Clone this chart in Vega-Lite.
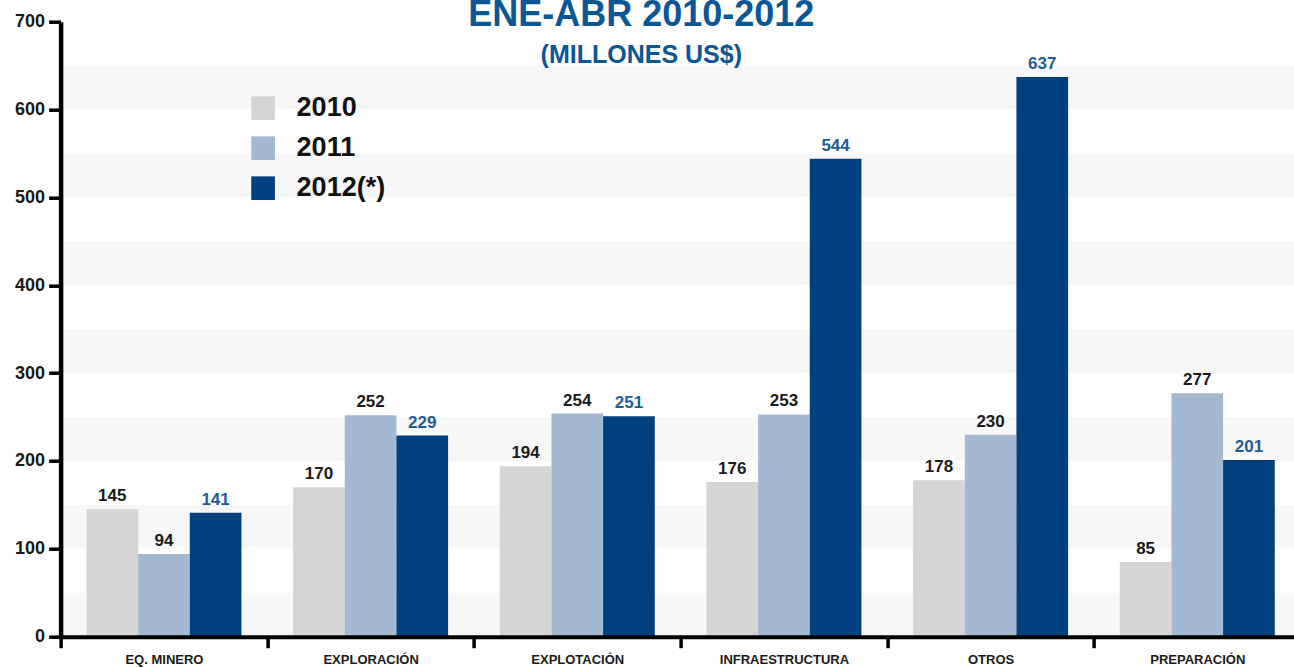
{
  "$schema": "https://vega.github.io/schema/vega-lite/v6.json",
  "width": 1233.4,
  "height": 615,
  "autosize": {"type": "none"},
  "padding": {"left": 60.6, "top": 21.7, "right": 0, "bottom": 31.3},
  "background": "white",
  "config": {
    "view": {"stroke": null},
    "font": "Liberation Sans",
    "axisX": {
      "title": null,
      "labelAngle": 0,
      "labelFontSize": 13,
      "labelFontWeight": "bold",
      "labelColor": "#1a1a1a",
      "domainColor": "#000000",
      "domainWidth": 4,
      "tickColor": "#000000",
      "tickWidth": 3.5,
      "tickSize": 11,
      "tickBand": "extent",
      "labelPadding": 6,
      "grid": false,
      "zindex": 2
    },
    "axisY": {
      "title": null,
      "labelFontSize": 18,
      "labelFontWeight": "bold",
      "labelColor": "#1a1a1a",
      "domainColor": "#000000",
      "domainWidth": 4.5,
      "tickColor": "#000000",
      "tickWidth": 3.5,
      "tickSize": 12,
      "labelPadding": 4,
      "grid": false,
      "zindex": 2
    }
  },
  "title": {
    "text": "ENE-ABR  2010-2012",
    "subtitle": "(MILLONES US$)",
    "font": "Liberation Sans",
    "subtitleFont": "Liberation Sans",
    "fontSize": 36,
    "subtitleFontSize": 25,
    "fontWeight": "bold",
    "subtitleFontWeight": "bold",
    "color": "#0b5695",
    "subtitleColor": "#0b5695",
    "anchor": "middle",
    "dx": -36,
    "offset": -56,
    "subtitlePadding": 9
  },
  "datasets": {
    "bars": [
      {"cat": "EQ. MINERO", "year": "2010", "value": 145},
      {"cat": "EQ. MINERO", "year": "2011", "value": 94},
      {"cat": "EQ. MINERO", "year": "2012", "value": 141},
      {"cat": "EXPLORACIÓN", "year": "2010", "value": 170},
      {"cat": "EXPLORACIÓN", "year": "2011", "value": 252},
      {"cat": "EXPLORACIÓN", "year": "2012", "value": 229},
      {"cat": "EXPLOTACIÓN", "year": "2010", "value": 194},
      {"cat": "EXPLOTACIÓN", "year": "2011", "value": 254},
      {"cat": "EXPLOTACIÓN", "year": "2012", "value": 251},
      {"cat": "INFRAESTRUCTURA", "year": "2010", "value": 176},
      {"cat": "INFRAESTRUCTURA", "year": "2011", "value": 253},
      {"cat": "INFRAESTRUCTURA", "year": "2012", "value": 544},
      {"cat": "OTROS", "year": "2010", "value": 178},
      {"cat": "OTROS", "year": "2011", "value": 230},
      {"cat": "OTROS", "year": "2012", "value": 637},
      {"cat": "PREPARACIÓN", "year": "2010", "value": 85},
      {"cat": "PREPARACIÓN", "year": "2011", "value": 277},
      {"cat": "PREPARACIÓN", "year": "2012", "value": 201}
    ],
    "bands": [
      {"lo": 0, "hi": 50},
      {"lo": 100, "hi": 150},
      {"lo": 200, "hi": 250},
      {"lo": 300, "hi": 350},
      {"lo": 400, "hi": 450},
      {"lo": 500, "hi": 550},
      {"lo": 600, "hi": 650}
    ]
  },
  "layer": [
    {
      "data": {"name": "bands"},
      "mark": {"type": "rect", "color": "#f7f7f7"},
      "encoding": {
        "y": {"field": "lo", "type": "quantitative", "scale": {"domain": [0, 700]}, "title": null, "axis": {"values": [0, 100, 200, 300, 400, 500, 600, 700], "zindex": 2}},
        "y2": {"field": "hi"}
      }
    },
    {
      "data": {"name": "bars"},
      "mark": {"type": "bar"},
      "encoding": {
        "x": {
          "field": "cat",
          "type": "nominal",
          "title": null,
          "sort": ["EQ. MINERO", "EXPLORACIÓN", "EXPLOTACIÓN", "INFRAESTRUCTURA", "OTROS", "PREPARACIÓN"],
          "scale": {"paddingInner": 0, "paddingOuter": 0, "range": [0, 1240]},
          "axis": {"zindex": 2}
        },
        "xOffset": {"field": "year", "type": "nominal", "scale": {"paddingInner": 0, "paddingOuter": 0.5}},
        "y": {"field": "value", "type": "quantitative", "title": null, "axis": {"values": [0, 100, 200, 300, 400, 500, 600, 700], "zindex": 2}},
        "color": {
          "field": "year",
          "type": "nominal",
          "scale": {"domain": ["2010", "2011", "2012"], "range": ["#d5d5d5", "#a3b9d1", "#00407f"]},
          "legend": {
            "orient": "none",
            "legendX": 189,
            "legendY": 73,
            "title": null,
            "symbolType": "square",
            "symbolSize": 560,
            "symbolStrokeWidth": 0,
            "symbolOpacity": 1,
            "labelFontSize": 27,
            "labelFontWeight": "bold",
            "labelColor": "#111111",
            "labelOffset": 20,
            "rowPadding": 12,
            "labelExpr": "datum.label === '2012' ? '2012(*)' : datum.label"
          }
        }
      }
    },
    {
      "data": {"name": "bars"},
      "mark": {"type": "text", "baseline": "bottom", "dy": -4, "fontSize": 17, "fontWeight": "bold"},
      "encoding": {
        "x": {
          "field": "cat",
          "type": "nominal",
          "title": null,
          "sort": ["EQ. MINERO", "EXPLORACIÓN", "EXPLOTACIÓN", "INFRAESTRUCTURA", "OTROS", "PREPARACIÓN"]
        },
        "xOffset": {"field": "year", "type": "nominal"},
        "y": {"field": "value", "type": "quantitative", "title": null},
        "text": {"field": "value", "type": "quantitative"},
        "color": {"condition": {"test": "datum.year === '2012'", "value": "#1f5b9a"}, "value": "#1a1a1a"}
      }
    }
  ]
}
